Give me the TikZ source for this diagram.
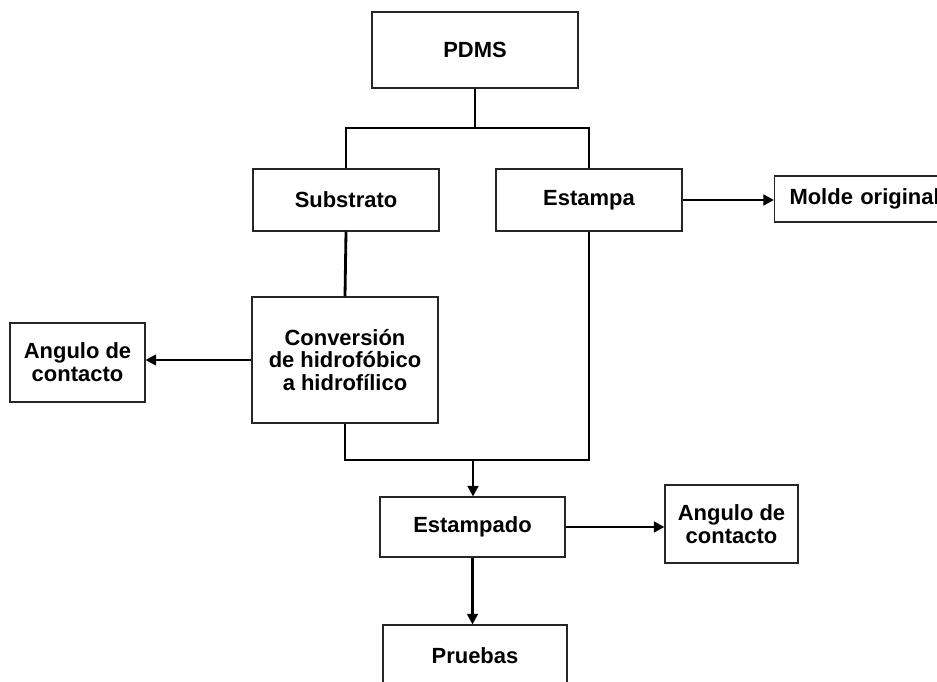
\documentclass[tikz,border=0pt]{standalone}
\usepackage{fontspec}
\setmainfont{Liberation Sans}
\usepackage{tikz}
\usetikzlibrary{calc, positioning, arrows.meta}

\tikzset{
  caja/.style={draw=black!85, line width=0.6pt, rectangle, align=center,
    inner sep=2pt, font=\fontsize{12.5}{13}\selectfont\bfseries},
  linea/.style={line width=1.6},
  flecha/.style={line width=1.6, -{Triangle[length=6pt,width=6pt]}}
}

\begin{document}
\begin{tikzpicture}[x=0.02cm, y=-0.02cm]
	\useasboundingbox (0,0) rectangle (937,682);
	% cajas %
	\node[caja, minimum width=4.12cm, minimum height=1.52cm] (pdms) at (475,50) {PDMS};
	\node[caja, minimum width=3.72cm, minimum height=1.24cm] (sub) at (346,200) {Substrato};
	\node[caja, minimum width=3.72cm, minimum height=1.24cm] (est) at (589,200) {Estampa};
	\node[caja, anchor=west, minimum height=0.92cm, inner xsep=0.3cm, text width=3.3cm, align=left] (molde) at (774,199) {Molde original};
	\node[caja, minimum width=3.72cm, minimum height=2.52cm] (conv) at (345,360) {Conversión\\de hidrofóbico\\a hidrofílico};
	\node[caja, minimum width=2.7cm, minimum height=1.58cm] (ang1) at (77.5,362.5) {Angulo de\\contacto};
	\node[caja, minimum width=3.7cm, minimum height=1.2cm] (estdo) at (472.5,527) {Estampado};
	\node[caja, minimum width=2.66cm, minimum height=1.56cm] (ang2) at (731.5,524) {Angulo de\\contacto};
	\node[caja, minimum width=3.68cm, minimum height=1.24cm] (prueba) at (475,656) {Pruebas};
	\coordinate (rama) at (475,128);
	\coordinate (union) at (473,460);
	% conexiones %
	\draw[linea] (pdms.south) -- (rama);
	\draw[linea] (sub.north) |- (rama) -| (est.north);
	\draw[linea] (sub.south) -- (conv.north);
	\draw[flecha] (est.east) -- (est.east -| molde.west);
	\draw[flecha] (conv.west) -- (conv.west -| ang1.east);
	\draw[linea] (conv.south) |- (union) -| (est.south);
	\draw[flecha] (union) -- (union |- estdo.north);
	\draw[flecha] (estdo.east) -- (estdo.east -| ang2.west);
	\draw[flecha] (estdo.south) -- (estdo.south |- prueba.north);
\end{tikzpicture}
\end{document}
